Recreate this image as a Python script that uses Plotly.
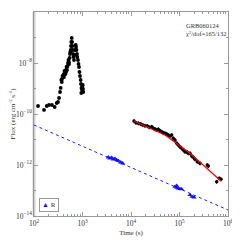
import plotly.graph_objects as go

# X-ray (black) early flare
early_t = [121, 161, 183, 204, 235, 267, 294, 313, 328, 344, 355, 366, 374, 378, 387, 396,
           406, 415, 415, 425, 436, 446, 457, 457, 468, 479, 479, 491, 502, 514, 527, 527,
           540, 552, 560, 571, 579, 587, 599, 608, 616, 628, 637, 652, 668, 684, 700, 724,
           735, 752, 770, 781, 807, 827, 847, 867, 888, 918, 931, 944, 953, 977, 991, 1014,
           1023, 1038]
early_f = [2.06e-10, 1.44e-10, 2.06e-10, 2.25e-10, 2.25e-10, 1.88e-10, 2.70e-10, 2.96e-10,
           4.24e-10, 7.29e-10, 1.05e-9, 2.15e-9, 1.80e-9, 2.36e-9, 3.09e-9, 2.82e-9,
           3.38e-9, 3.71e-9, 2.82e-9, 4.85e-9, 4.44e-9, 3.71e-9, 5.31e-9, 4.44e-9,
           6.97e-9, 6.97e-9, 5.31e-9, 7.62e-9, 1.0e-8, 1.31e-8, 1.09e-8, 9.14e-9,
           1.57e-8, 2.25e-8, 2.70e-8, 3.23e-8, 4.64e-8, 6.66e-8, 9.56e-8, 6.66e-8,
           4.64e-8, 3.23e-8, 2.25e-8, 1.72e-8, 1.31e-8, 2.06e-8, 3.23e-8, 5.08e-8,
           4.24e-8, 3.23e-8, 2.25e-8, 1.72e-8, 1.31e-8, 9.14e-9, 6.97e-9, 4.44e-9,
           3.09e-9, 2.15e-9, 1.50e-9, 6.67e-10, 1.05e-9, 8.73e-10, 1.15e-9, 1.37e-9,
           9.56e-10, 7.29e-10]

# X-ray (black) late afterglow
late_t = [11530, 12680, 14150, 15850, 17420, 19450, 21680, 23830, 26720, 28840, 31260,
          33880, 36560, 39630, 42950, 46340, 50230, 54450, 58750, 63680, 69020, 74470,
          80720, 87500, 94410, 102300, 110900, 119700, 129800, 140600, 151700, 164500,
          178500, 192600, 208800, 232800, 264800, 374100, 392600, 584800, 662200, 717800]
late_f = [5.31e-11, 4.56e-11, 4.32e-11, 4.06e-11, 3.71e-11, 3.48e-11, 3.38e-11, 3.01e-11,
          3.18e-11, 2.75e-11, 2.58e-11, 2.36e-11, 2.51e-11, 2.21e-11, 2.02e-11, 1.85e-11,
          1.75e-11, 1.64e-11, 1.50e-11, 1.37e-11, 1.50e-11, 1.11e-11, 9.55e-12, 7.10e-12,
          6.08e-12, 5.22e-12, 4.52e-12, 3.87e-12, 3.32e-12, 3.32e-12, 2.88e-12, 2.88e-12,
          2.25e-12, 2.00e-12, 1.67e-12, 1.35e-12, 1.17e-12, 1.0e-12, 9.14e-13, 2.21e-13,
          3.01e-13, 2.75e-13]

# Red model curve
model_t = [11530, 50230, 164500, 717800]
model_f = [5.31e-11, 1.50e-11, 2.90e-12, 2.36e-13]

# R-band (blue triangles)
r_t = [3404, 3690, 4000, 4316, 4677, 5070, 5472, 6133, 6745,
       80720, 87500, 94410, 102300, 87500, 110900,
       164500, 181100, 199100]
r_f = [2.00e-12, 1.83e-12, 1.93e-12, 1.67e-12, 1.77e-12, 1.57e-12, 1.48e-12, 1.28e-12, 1.17e-12,
       1.41e-13, 1.29e-13, 1.22e-13, 1.15e-13, 1.54e-13, 1.12e-13,
       6.67e-14, 5.71e-14, 5.41e-14]

# Blue dashed R-band model
rmodel_t = [100, 1e6]
rmodel_f = [3.71e-11, 1.72e-14]

serif = "Liberation Serif, Times New Roman, serif"

fig = go.Figure()
fig.add_trace(go.Scatter(x=rmodel_t, y=rmodel_f, mode="lines",
                         line=dict(color="#2020ff", width=1, dash="3px,3px"), showlegend=False))
fig.add_trace(go.Scatter(x=early_t, y=early_f, mode="markers",
                         marker=dict(color="black", size=3.8), showlegend=False))
fig.add_trace(go.Scatter(x=late_t, y=late_f, mode="markers",
                         marker=dict(color="black", size=3.5),
                         error_y=dict(type="percent", value=18, color="black", thickness=0.8, width=0),
                         showlegend=False))
fig.add_trace(go.Scatter(x=model_t, y=model_f, mode="lines",
                         line=dict(color="red", width=1.2), showlegend=False))
fig.add_trace(go.Scatter(x=r_t, y=r_f, mode="markers", name="R",
                         marker=dict(color="#1010ff", size=4.5, symbol="triangle-up"),
                         showlegend=False))

axis_common = dict(type="log", showgrid=False, zeroline=False, mirror="allticks",
                   showline=True, linecolor="#999999", linewidth=1, automargin=False,
                   ticks="inside", tickcolor="#999999", ticklen=4,
                   exponentformat="power", tickfont=dict(family=serif, size=6, color="#333"))

fig.update_xaxes(range=[2, 6], dtick=1,
                 minor=dict(ticks="inside", ticklen=2, tickcolor="#999999", dtick="D1"),
                 title=dict(text="Time (s)", font=dict(family=serif, size=7, color="#333"), standoff=3),
                 **axis_common)
fig.update_yaxes(range=[-14, -6], dtick=2,
                 minor=dict(ticks="inside", ticklen=2, tickcolor="#999999", dtick=1),
                 title=dict(text="Flux (erg cm<sup>-2</sup> s<sup>-1</sup>)",
                            font=dict(family=serif, size=7, color="#333"), standoff=3),
                 **axis_common)

# left axis drawn as a thicker light-grey bar, as in the reference
fig.add_shape(type="line", xref="paper", yref="paper", x0=0, x1=0, y0=0, y1=1,
              line=dict(color="#d0d0d0", width=3), layer="below")

fig.add_annotation(x=0.775, y=1, xref="paper", yref="paper", xanchor="left", yanchor="top",
                   yshift=-8, showarrow=False, align="left",
                   text="GRB060124<br>χ<sup>2</sup>/dof=165/132",
                   font=dict(family=serif, size=6.5, color="#333"))

# legend box
fig.add_annotation(x=0.025, y=0.02, xref="paper", yref="paper", xanchor="left", yanchor="bottom",
                   showarrow=False, text="<span style='color:#1010ff'>▲</span> R",
                   bordercolor="#999999", borderwidth=1, borderpad=2, bgcolor="white",
                   font=dict(family=serif, size=7, color="#333"))

# page body adds ~8px offset; size the figure so the plot area lands where the reference has it
fig.update_layout(width=232, height=232, margin=dict(l=26, r=12, t=4, b=24),
                  paper_bgcolor="white", plot_bgcolor="white", showlegend=False)

fig.write_html("out.html")
